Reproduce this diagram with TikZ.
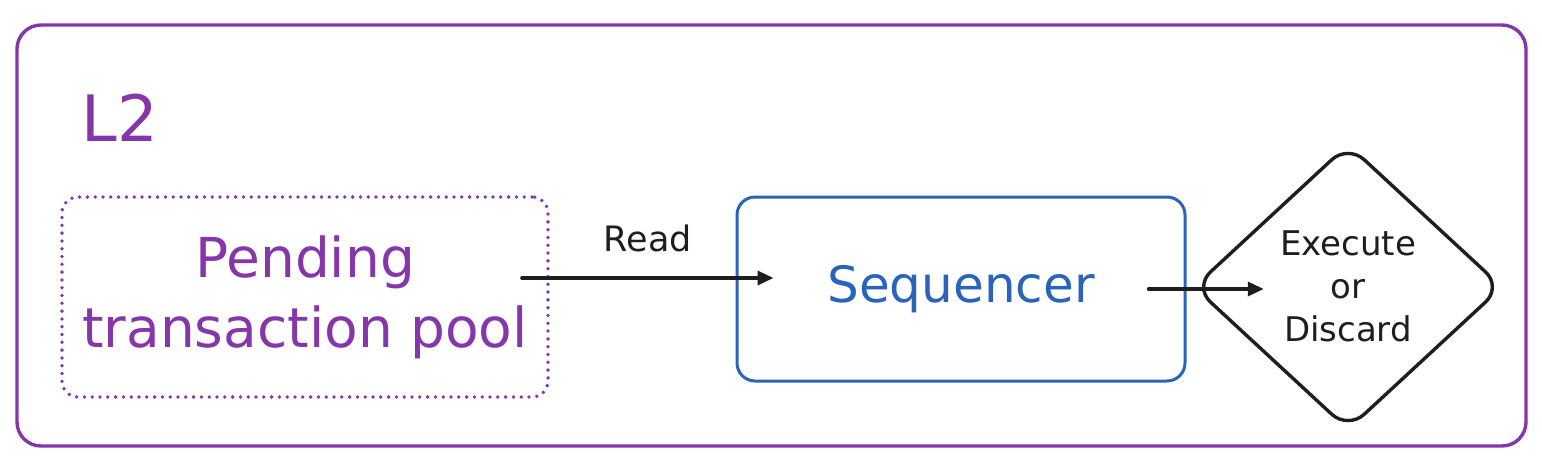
\documentclass[tikz,border=0pt]{standalone}
\usepackage{fontspec}
\setmainfont{DejaVu Sans}
\usetikzlibrary{shapes.geometric,arrows.meta}
\definecolor{grape}{RGB}{132,54,170}
\definecolor{seqblue}{RGB}{42,100,186}
\definecolor{ink}{RGB}{30,30,30}
\tikzset{
  outerbox/.style={draw=grape, line width=3.4pt, rounded corners=24pt, minimum width=1509pt, minimum height=421pt, inner sep=0pt},
  poolbox/.style={draw=grape, line width=3.8pt, line cap=round, dash pattern=on 0pt off 7.8pt, rounded corners=16pt, minimum width=486pt, minimum height=200pt, inner sep=0pt, align=center, text=grape, font=\fontsize{55}{70}\selectfont},
  seqbox/.style={draw=seqblue, line width=3pt, rounded corners=18pt, minimum width=448pt, minimum height=184pt, inner sep=0pt, text=seqblue, font=\fontsize{50}{60}\selectfont},
  decbox/.style={diamond, draw=ink, line width=3.4pt, rounded corners=22pt, minimum width=309pt, minimum height=286pt, inner sep=0pt},
  dectext/.style={align=center, text=ink, font=\fontsize{34}{43}\selectfont},
  arr/.style={draw=ink, line width=3.4pt, line cap=round, -{Triangle[length=16pt,width=14pt]}},
  lbl/.style={text=ink, font=\fontsize{35}{42}\selectfont},
  title/.style={text=grape, font=\fontsize{64}{70}\selectfont}
}
\begin{document}
\begin{tikzpicture}[x=1pt,y=-1pt]
\useasboundingbox (0,0) rectangle (1542,471);
\node[outerbox] (l2box) at (771.5,235.5) {};
\node[title] (l2) at (120,118) {L2};
\node[poolbox] (pool) at (305,297) {Pending\\transaction pool};
\node[seqbox] (seq) at (961,289) {Sequencer};
\node[decbox] (dec) at (1348,287) {};
\node[dectext] (dect) at (1348,286) {Execute\\or\\Discard};
\coordinate (r1) at ([xshift=-28pt,yshift=19pt]pool.east);
\draw[arr] (r1) -- ([xshift=38pt]seq.west |- r1) node[lbl, midway, yshift=40pt] (read) {Read};
\draw[arr] ([xshift=-38pt]seq.east) -- ([xshift=72pt]dec.west |- seq.east);
\end{tikzpicture}
\end{document}
